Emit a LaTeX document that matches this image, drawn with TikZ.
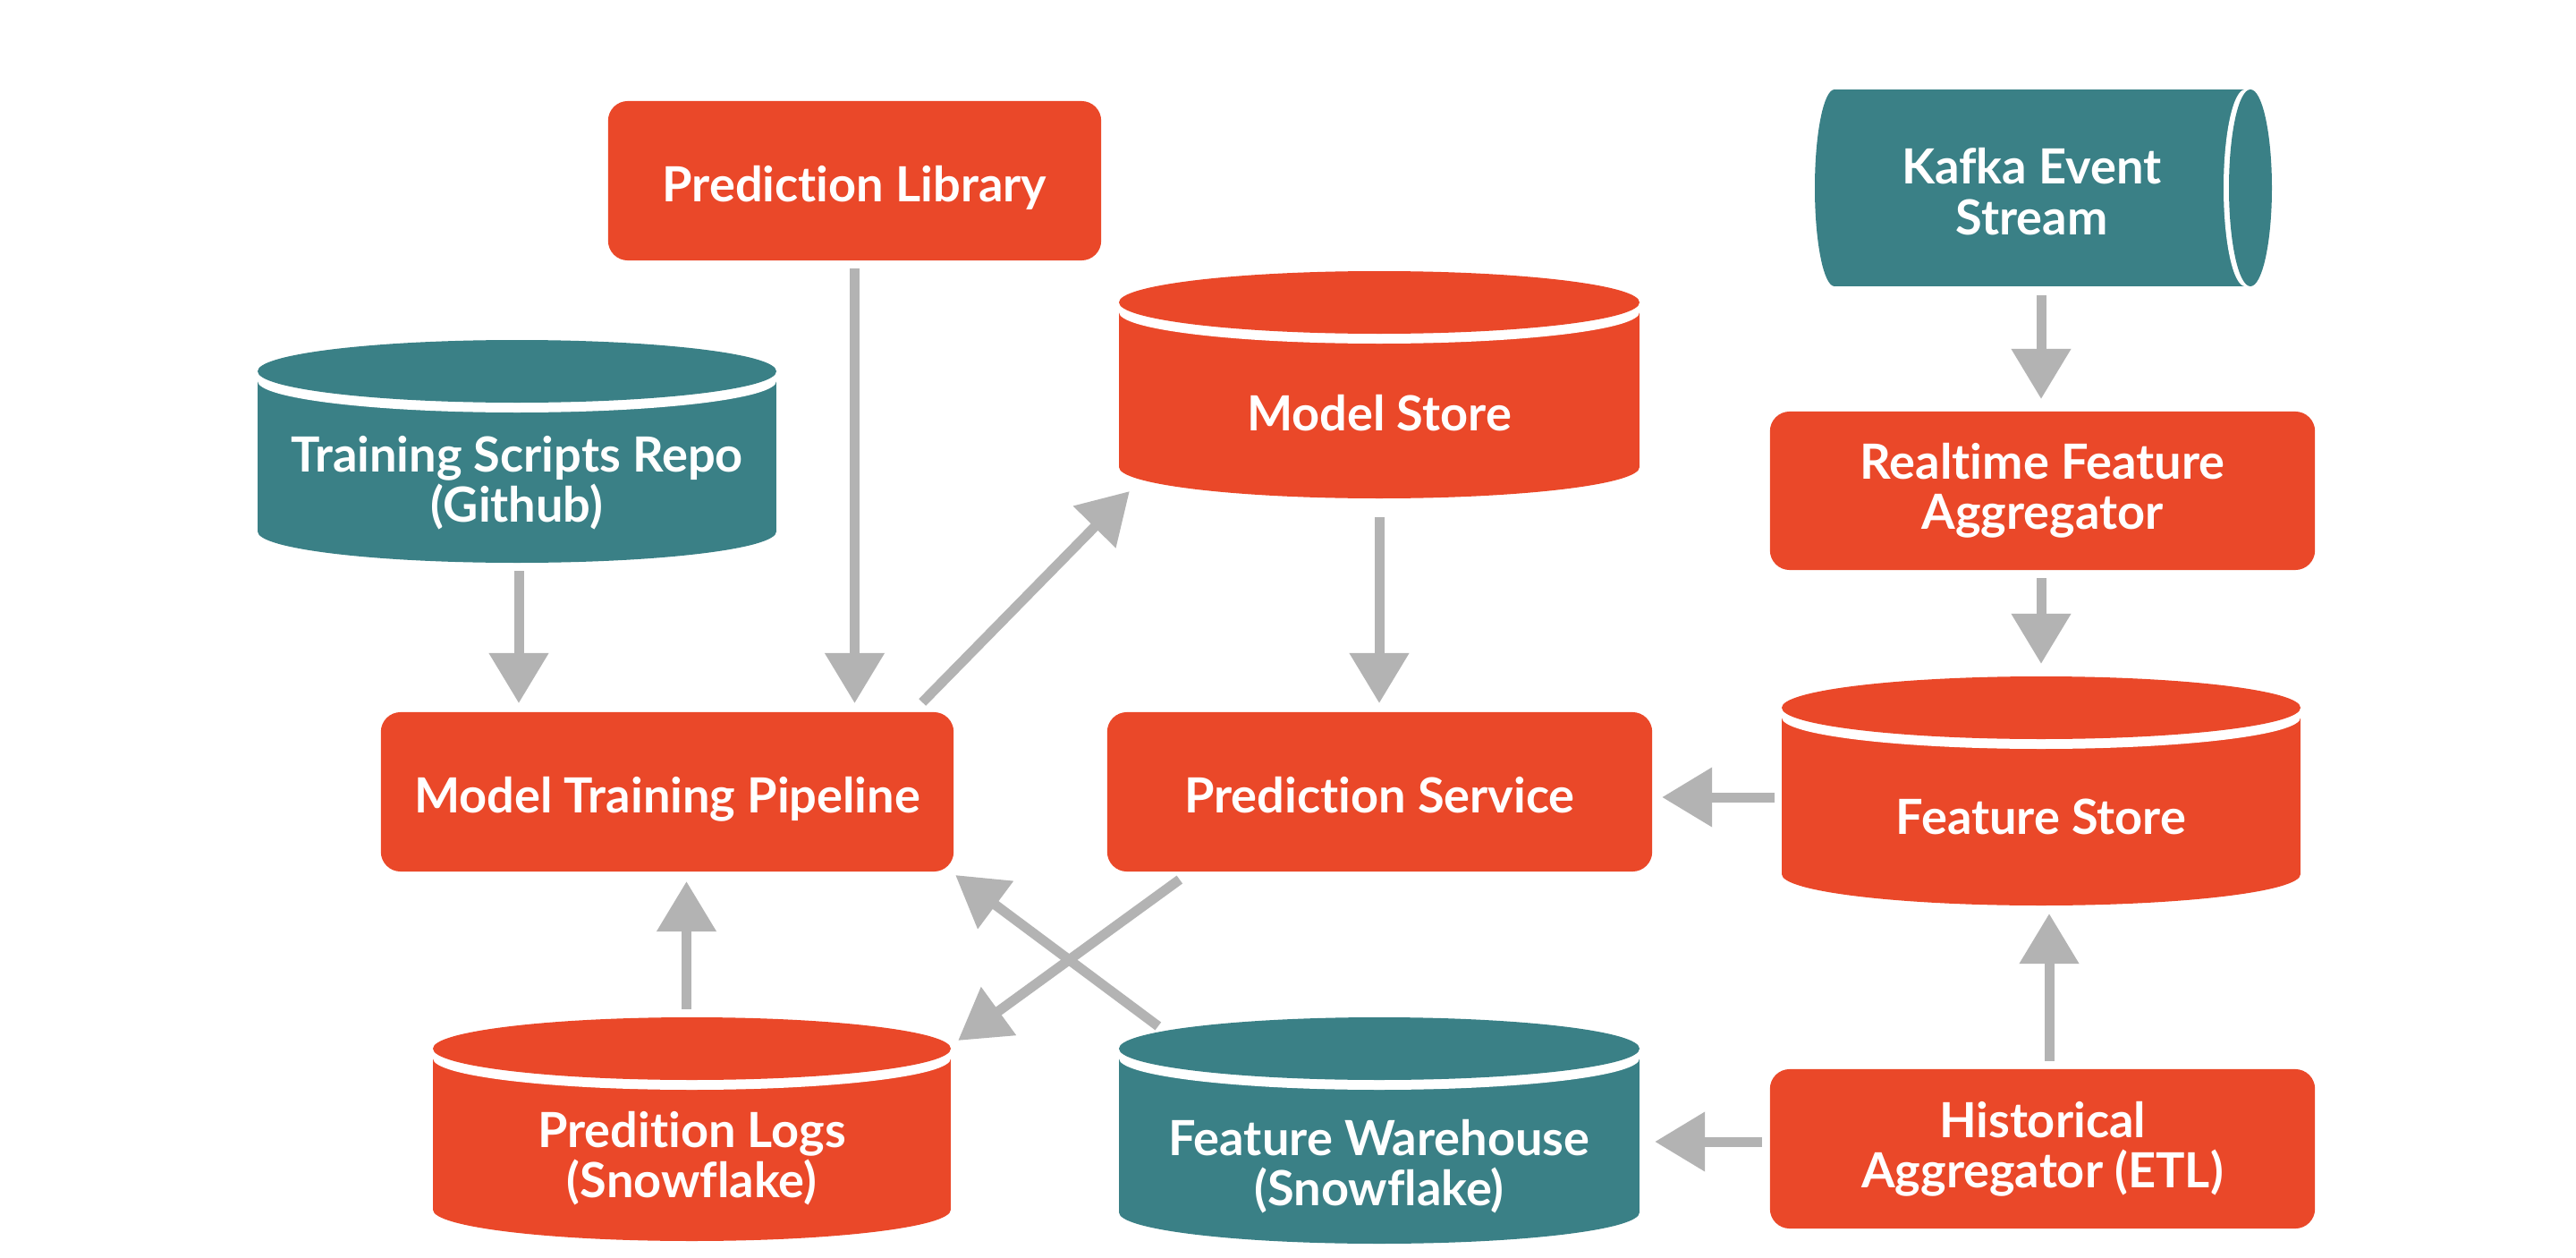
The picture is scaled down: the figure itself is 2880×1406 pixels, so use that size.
\documentclass[tikz,border=0pt]{standalone}
\usepackage{fontspec}
\setmainfont{Lato}[Ligatures=NoCommon]
\usetikzlibrary{arrows.meta,calc}
\definecolor{cOr}{HTML}{EA4829}
\definecolor{cTe}{HTML}{3A8086}
\definecolor{cAr}{HTML}{B3B3B3}
% vertical cylinder: cx, top, bottom, half width (px), colour
\newcommand\cylV[5]{%
  \fill[#5] (#1-#4,#2+46) rectangle (#1+#4,#3-35);
  \fill[#5] (#1,#3-35) ellipse [x radius=#4, y radius=35];
  \fill[white] (#1,#2+46) ellipse [x radius=#4, y radius=35];
  \fill[#5] (#1,#2+35) ellipse [x radius=#4, y radius=35];
}
\begin{document}
\begin{tikzpicture}[x=0.01cm,y=-0.01cm,
  lbl/.style={text=white,align=center,inner sep=0pt,
    font=\bfseries\fontsize{15.4pt}{16pt}\selectfont},
  box/.style={lbl,fill=cOr,rounded corners=0.22cm,outer sep=0pt},
  oneline/.style={text height=0.47cm,text depth=0pt},
  bound/.style={draw=none,inner sep=0pt,outer sep=0pt},
  arr/.style={draw=cAr,line width=0.11cm,-{Triangle[length=0.56cm,width=0.64cm]}}]
\fill[white] (0,0) rectangle (2880,1406);
\useasboundingbox (0,0) rectangle (2880,1406);

% cylinders
\cylV{578}{380}{629}{290}{cTe}
\cylV{1542}{303}{557}{291}{cOr}
\cylV{2282}{756}{1012}{290}{cOr}
\cylV{773.5}{1137}{1387}{289.5}{cOr}
\cylV{1542}{1137}{1390}{291}{cTe}
% horizontal cylinder (Kafka)
\fill[cTe] (2051,100) rectangle (2510,320);
\fill[cTe] (2051,210) ellipse [x radius=22, y radius=110];
\fill[white] (2510,210) ellipse [x radius=24, y radius=110];
\fill[cTe] (2516,210) ellipse [x radius=24, y radius=110];

% cylinder bounds
\node[bound,minimum width=5.80cm,minimum height=2.49cm] (ts) at (578,504.5) {};
\node[bound,minimum width=5.82cm,minimum height=2.54cm] (ms) at (1542,430) {};
\node[bound,minimum width=5.80cm,minimum height=2.56cm] (fs) at (2282,884) {};
\node[bound,minimum width=5.79cm,minimum height=2.50cm] (plogs) at (773.5,1262) {};
\node[bound,minimum width=5.82cm,minimum height=2.53cm] (fw) at (1542,1263.5) {};
\node[bound,minimum width=5.11cm,minimum height=2.20cm] (kafka) at (2284.5,210) {};

% cylinder texts
\node[lbl] (tst) at ($(ts.center)+(0,35)$) {Training Scripts Repo\\(Github)};
\node[lbl] (mst) at ($(ms.center)+(0,32)$) {Model Store};
\node[lbl] (fst) at ($(fs.center)+(0,29)$) {Feature Store};
\node[lbl] (plogst) at ($(plogs.center)+(0,33)$) {Predition Logs\\(Snowflake)};
\node[lbl] (fwt) at ($(fw.center)+(0,40)$) {Feature Warehouse\\(Snowflake)};
\node[lbl] (kafkat) at ($(kafka.center)+(-13,4)$) {Kafka Event\\Stream};

% boxes
\node[box,oneline,minimum width=5.51cm,minimum height=1.78cm] (pl) at (955.5,202) {Prediction Library};
\node[box,oneline,minimum width=6.40cm,minimum height=1.78cm] (mtp) at (746,885) {Model Training Pipeline};
\node[box,oneline,minimum width=6.09cm,minimum height=1.78cm] (ps) at (1542.5,885) {Prediction Service};
\node[box,minimum width=6.09cm,minimum height=1.77cm] (rfa) at (2283.5,548.5) {Realtime Feature\\Aggregator};
\node[box,minimum width=6.09cm,minimum height=1.78cm] (ha) at (2283.5,1284) {Historical\\Aggregator (ETL)};

% connectors
\draw[arr] ($(ts.south)+(2,9)$) -- ($(ts.south |- mtp.north)+(2,-10)$);
\draw[arr] ($(pl.south)+(0,9)$) -- ($(pl.south |- mtp.north)+(0,-10)$);
\draw[arr] ($(mtp.north east)+(-35,-11)$) -- ($(ms.south west)+(12,-8)$);
\draw[arr] ($(ms.south)+(0,21)$) -- ($(ms.south |- ps.north)+(0,-10)$);
\draw[arr] ($(rfa.north |- kafka.south)+(-1.5,10)$) -- ($(rfa.north)+(-1.5,-14)$);
\draw[arr] ($(rfa.south)+(-1.5,9)$) -- ($(rfa.south |- fs.north)+(-1.5,-14)$);
\draw[arr] ($(ps.east -| fs.west)+(-8,6)$) -- ($(ps.east)+(11,6)$);
\draw[arr] ($(ha.north)+(7.5,-9)$) -- ($(ha.north |- fs.south)+(7.5,9)$);
\draw[arr] ($(ha.west)+(-9,-8)$) -- ($(ha.west -| fw.east)+(17,-8)$);
\draw[arr] ($(plogs.north)+(-6,-9)$) -- ($(plogs.north |- mtp.south)+(-6,11)$);
\draw[arr] ($(ps.south west)+(81,9)$) -- ($(plogs.north east)+(8,26)$);
\draw[arr] ($(fw.north west)+(44,10)$) -- ($(mtp.south east)+(2,4)$);
\end{tikzpicture}
\end{document}
